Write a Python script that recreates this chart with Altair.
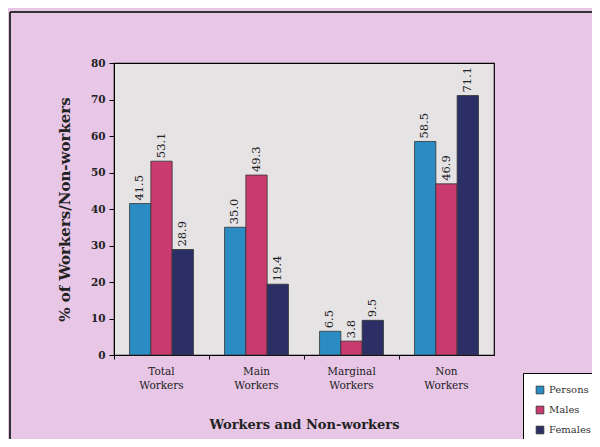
import altair as alt
import pandas as pd

categories = ["Total\nWorkers", "Main\nWorkers", "Marginal\nWorkers", "Non\nWorkers"]
series = ["Persons", "Males", "Females"]
persons = [41.5, 35.0, 6.5, 58.5]
males = [53.1, 49.3, 3.8, 46.9]
females = [28.9, 19.4, 9.5, 71.1]
colors = ["#2b8cc4", "#c93a6e", "#2c2f66"]

rows = []
for i, c in enumerate(categories):
    for s, vals in zip(series, [persons, males, females]):
        rows.append({"cat": c, "series": s, "value": vals[i], "label": f"{vals[i]:.1f}"})
df = pd.DataFrame(rows)

FONT = "DejaVu Serif"

x = alt.X("cat:N", sort=categories,
          scale=alt.Scale(paddingInner=0, paddingOuter=0),
          axis=alt.Axis(title="Workers and Non-workers", labelAngle=0,
                        labelExpr="split(datum.label, '\\n')",
                        bandPosition=0, ticks=True, tickSize=4, tickColor="black",
                        domainColor="black", labelColor="#222", labelFont=FONT,
                        labelFontSize=10.5, labelLineHeight=14, labelPadding=7,
                        titleFont=FONT, titleFontSize=13, titleFontWeight="bold",
                        titlePadding=28, titleColor="#222"))
xo = alt.XOffset("series:N", sort=series,
                 scale=alt.Scale(paddingOuter=0.73, paddingInner=0))
y = alt.Y("value:Q", scale=alt.Scale(domain=[0, 80]),
          axis=alt.Axis(title="% of Workers/Non-workers", values=list(range(0, 81, 10)),
                        grid=False, tickSize=5, tickColor="black", domainColor="black",
                        labelFont=FONT, labelFontSize=10.5, labelColor="#222",
                        labelFontWeight="bold", labelPadding=4,
                        titleFont=FONT, titleFontSize=15, titleFontWeight="bold",
                        titleColor="#222", titlePadding=18))

bars = alt.Chart(df).mark_bar(stroke="#333", strokeWidth=0.8).encode(
    x=x, xOffset=xo, y=y,
    color=alt.Color("series:N", sort=series,
                    scale=alt.Scale(domain=series, range=colors),
                    legend=alt.Legend(title=None, orient="none", legendX=409, legendY=310,
                                      symbolType="square", symbolSize=60,
                                      symbolStrokeColor="#333", symbolStrokeWidth=0.8,
                                      labelFont=FONT, labelFontSize=10, labelColor="#333",
                                      fillColor="white", strokeColor="black",
                                      padding=12, rowPadding=8)),
)

text = alt.Chart(df).mark_text(angle=270, align="left", baseline="middle", dx=3,
                               font=FONT, fontSize=11.5, color="#222").encode(
    x=x, xOffset=xo, y=y, text="label:N")

frame_top = alt.Chart(df).mark_rule(color="#333", strokeWidth=1).encode(
    x=alt.value(-104), x2=alt.value(480), y=alt.value(-51))
frame_left = alt.Chart(df).mark_rule(color="#333", strokeWidth=1).encode(
    x=alt.value(-104), y=alt.value(-51), y2=alt.value(380))

chart = alt.layer(frame_top, frame_left, bars, text).properties(
    width=380, height=292,
    background="#e8c6e6",
    autosize=alt.AutoSizeParams(type="none"),
    padding={"left": 106, "top": 55, "right": 98, "bottom": 84},
).configure_view(fill="#e6e3e5", stroke="black", strokeWidth=1.2)

chart.save("out.html", embed_options={"renderer": "svg", "actions": False})
